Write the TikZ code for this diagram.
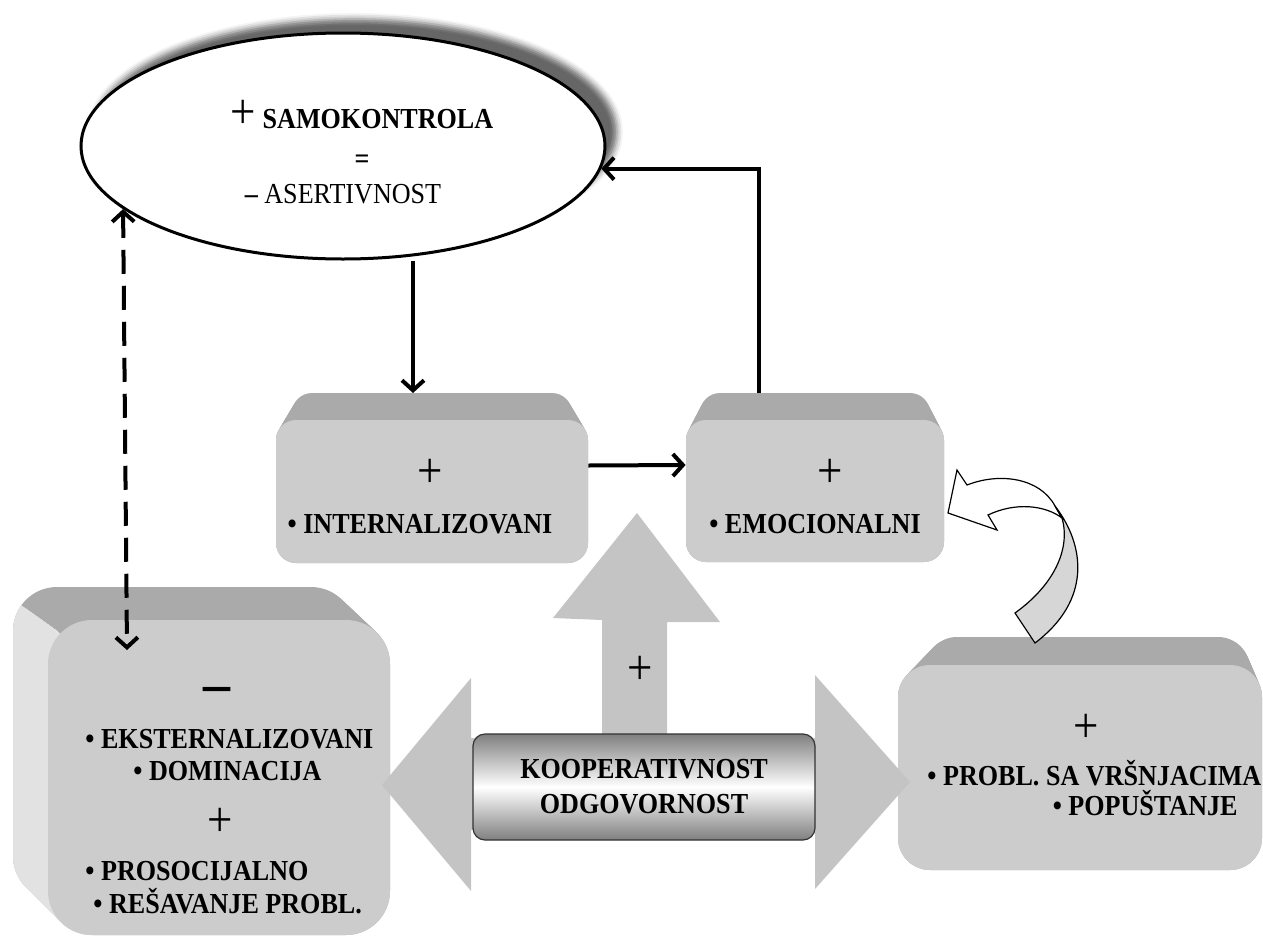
\documentclass[tikz,border=0pt]{standalone}
\usepackage{fontspec}
\setmainfont{Liberation Serif}[FakeStretch=0.9]
\usepackage{tikz}
\usetikzlibrary{shapes.geometric, arrows.meta, positioning, calc, shadows.blur}
\definecolor{facegray}{HTML}{CCCCCC}
\definecolor{bevelgray}{HTML}{AAAAAA}
\definecolor{bevellight}{HTML}{E2E2E2}
\definecolor{arrowgray}{HTML}{C4C4C4}
\definecolor{curvegray}{HTML}{D6D6D6}
\newcommand{\bigsign}{\fontsize{25}{25}\selectfont}

\tikzset{
  bevel/.style={fill=bevelgray},
  bevelside/.style={fill=bevellight},
  face/.style={fill=facegray, draw=none, inner sep=0pt},
  txt/.style={inner sep=0pt, font=\fontsize{14.5}{16}\selectfont\bfseries},
  sign/.style={inner sep=0pt, font=\bigsign},
  conn/.style={line width=2pt, -{Straight Barb[length=5pt, width=11pt]}},
  dashconn/.style={line width=2pt, dash pattern=on 12pt off 6pt,
    {Straight Barb[length=5pt, width=11pt]}-{Straight Barb[length=5pt, width=11pt]}},
  koop/.style={draw=black!80, line width=0.6pt, rounded corners=6pt,
    top color=black!50, bottom color=black!50, middle color=white,
    align=center, font=\fontsize{14.5}{17.5}\selectfont\bfseries}
}

\begin{document}
\begin{tikzpicture}[x=0.5pt, y=-0.5pt]
    \useasboundingbox (0,0) rectangle (1263,942);

    % Extruded back sides of the four boxes
    \foreach \ax/\ay/\bx/\by/\cx/\cy/\dx/\dy/\rr in {
        292/393/572/540/276/420/588/563/10pt,
        700/393/930/540/686/420/944/562/10pt,
        13/587/355/900/48/620/390/935/22pt,
        925/637/1250/845/898/665/1262/870/16pt} {
      \foreach \k in {0,...,16} {
        \pgfmathsetmacro\fr{\k/16}
        \fill[bevel, rounded corners=\rr]
          ({\ax+(\cx-\ax)*\fr},{\ay+(\cy-\ay)*\fr}) rectangle
          ({\bx+(\dx-\bx)*\fr},{\by+(\dy-\by)*\fr});
      }
    }
    % lighter left side of the big box
    \begin{scope}
      \clip (0,590) -- (57,631) -- (92,664) -- (92,942) -- (0,942) -- cycle;
      \foreach \k in {0,...,16} {
        \pgfmathsetmacro\fr{\k/16}
        \fill[bevelside, rounded corners=22pt]
          ({13+35*\fr},{587+33*\fr}) rectangle ({355+35*\fr},{900+35*\fr});
      }
    \end{scope}

    % Box faces
    \node[face, rounded corners=10pt, minimum width=156pt, minimum height=71.5pt] (intbox) at (432,491.5) {};
    \node[face, rounded corners=10pt, minimum width=129pt, minimum height=71pt] (emobox) at (815,491) {};
    \node[face, rounded corners=22pt, minimum width=171pt, minimum height=157.5pt] (leftbox) at (219,777.5) {};
    \node[face, rounded corners=16pt, minimum width=182pt, minimum height=102.5pt] (rightbox) at (1080,767.5) {};

    % Block arrows round the centre box
    \fill[arrowgray] (382,785) -- (471,678) -- (471,738) -- (520,738) -- (520,830) -- (471,830) -- (471,891) -- cycle;
    \fill[arrowgray] (910,782) -- (815,675) -- (815,738) -- (770,738) -- (770,828) -- (815,828) -- (815,889) -- cycle;
    \fill[arrowgray] (637,513) -- (720,622) -- (667,622) -- (667,745) -- (602,745) -- (602,620) -- (553,618) -- cycle;
    \node[sign] (upplus) at (640,670) {+};

    \node[koop, minimum width=171pt, minimum height=53pt] (koop) at (644,787) {KOOPERATIVNOST\\ODGOVORNOST};

    % Texts in the boxes
    \node[sign] (intplus) at (430,473) {+};
    \node[txt, anchor=base] (inttext) at (420,533) {• INTERNALIZOVANI};
    \node[sign] (emoplus) at (830,473) {+};
    \node[txt, anchor=base] (emotext) at (815,533) {• EMOCIONALNI};

    \node[sign, font=\fontsize{30}{30}\selectfont\bfseries] (leftminus) at (217,695) {–};
    \node[txt, anchor=base west] (eks) at (85,748) {• EKSTERNALIZOVANI};
    \node[txt, anchor=base west] (dom) at (133,780) {• DOMINACIJA};
    \node[sign] (leftplus) at (220,822) {+};
    \node[txt, anchor=base west] (pros) at (85,880) {• PROSOCIJALNO};
    \node[txt, anchor=base west] (res) at (93,913) {• REŠAVANJE PROBL.};

    \node[sign] (rightplus) at (1086,728) {+};
    \node[txt, anchor=base west] (vrs) at (927,785) {• PROBL. SA VRŠNJACIMA};
    \node[txt, anchor=base east] (pop) at (1238,815) {• POPUŠTANJE};

    % Ellipse with its shadow
    \node[ellipse, draw, line width=1.5pt, fill=white, minimum width=262pt, minimum height=113pt,
      blur shadow={shadow xshift=6pt, shadow yshift=7pt, shadow blur radius=3pt, shadow opacity=60}] (samo) at (343,146) {};
    \node[txt, anchor=base] (samoA) at (362,128) {{\bigsign\mdseries +} SAMOKONTROLA};
    \node[txt] (samoB) at (362,162) {=};
    \node[txt, anchor=base] (samoC) at (343,203) {– \mdseries ASERTIVNOST};

    % Connectors
    \coordinate (intTop) at (413,393);
    \coordinate (emoTop) at (759,393);
    \coordinate (leftTip) at (127,650);
    \draw[conn] (samo.south -| intTop) -- (intTop);
    \draw[conn] ([yshift=13pt]intbox.east) -- ([yshift=13pt]emobox.west);
    \draw[conn] (emoTop) |- (samo.-5);
    \draw[dashconn] (samo.196) -- (leftTip);

    % Curved arrow from the right box
    \filldraw[fill=white, draw=black, line width=0.6pt] (1062,518) .. controls (1045,505) and (1015,502) .. (988,515)
      -- (997,530) -- (948,513) -- (957,470) -- (967,485) .. controls (1000,472) and (1040,478) .. (1055,506) -- cycle;
    \filldraw[fill=curvegray, draw=black, line width=0.6pt] (1055,506) .. controls (1085,545) and (1092,600) .. (1035,643)
      -- (1015,613) .. controls (1058,582) and (1070,545) .. (1062,518) -- cycle;
  \end{tikzpicture}
\end{document}
